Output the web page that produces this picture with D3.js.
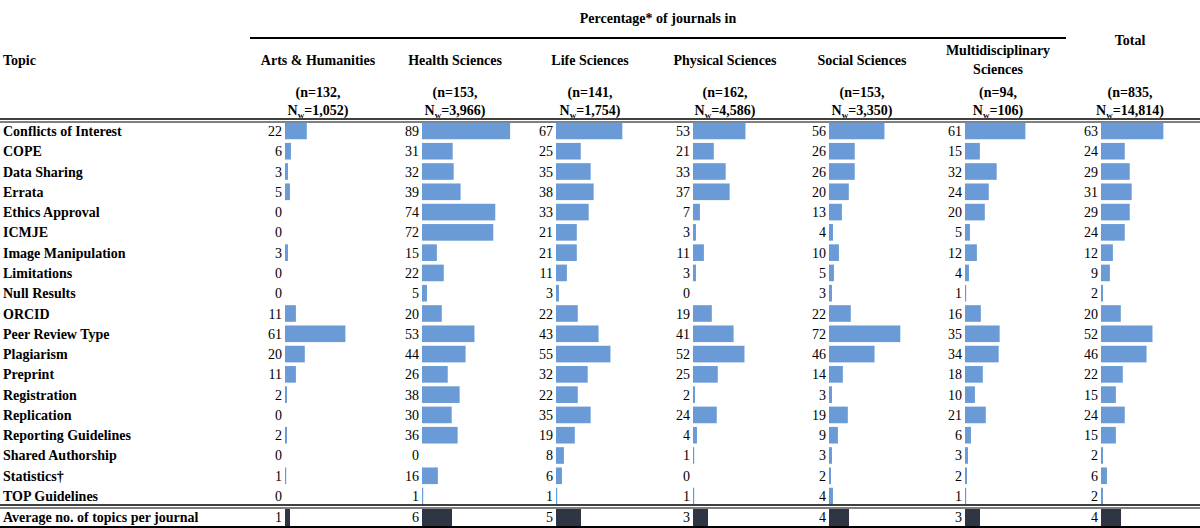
<!DOCTYPE html>
<html><head><meta charset="utf-8">
<script src="https://cdn.jsdelivr.net/npm/d3@7"></script>
<style>body{margin:0;background:#fff}text{font-family:"Liberation Serif","Times New Roman",serif;font-size:14px;fill:#000}</style>
</head><body><svg id="c" width="1200" height="528"></svg>
<script>
var topics = ["Conflicts of Interest","COPE","Data Sharing","Errata","Ethics Approval","ICMJE","Image Manipulation","Limitations","Null Results","ORCID","Peer Review Type","Plagiarism","Preprint","Registration","Replication","Reporting Guidelines","Shared Authorship","Statistics\u2020","TOP Guidelines"];
var columns = ["Arts & Humanities","Health Sciences","Life Sciences","Physical Sciences","Social Sciences","Multidisciplinary Sciences","Total"];
var nLabels = ["132","153","141","162","153","94","835"];
var nwLabels = ["1,052","3,966","1,754","4,586","3,350","106","14,814"];
var arts     = [22,6,3,5,0,0,3,0,0,11,61,20,11,2,0,2,0,1,0];
var health   = [89,31,32,39,74,72,15,22,5,20,53,44,26,38,30,36,0,16,1];
var life     = [67,25,35,38,33,21,21,11,3,22,43,55,32,22,35,19,8,6,1];
var physical = [53,21,33,37,7,3,11,3,0,19,41,52,25,2,24,4,1,0,1];
var social   = [56,26,26,20,13,4,10,5,3,22,72,46,14,3,19,9,3,2,4];
var multi    = [61,15,32,24,20,5,12,4,1,16,35,34,18,10,21,6,3,2,1];
var total    = [63,24,29,31,29,24,12,9,2,20,52,46,22,15,24,15,2,6,2];
var averages = [1,6,5,3,4,3,4];
var series = [arts,health,life,physical,social,multi,total];

var svg = d3.select("#c");
var barStart = [285,422,556,693,829,965,1101];
var x = d3.scaleLinear().domain([0,100]).range([0,99]);
var xAvg = d3.scaleLinear().domain([0,10]).range([0,50]);
var y = d3.scaleBand().domain(d3.range(topics.length)).range([121,506]).paddingInner(0.18).paddingOuter(0.08);

// header
svg.append("text").attr("x",658).attr("y",23).attr("text-anchor","middle").attr("font-weight","bold").text("Percentage* of journals in");
svg.append("line").attr("x1",250).attr("x2",1066).attr("y1",38).attr("y2",38).attr("stroke","#000").attr("stroke-width",2);
svg.append("text").attr("x",3).attr("y",65).attr("font-weight","bold").text("Topic");
var centers = [318,455,590,725,862,998,1130];
columns.forEach(function(c,i){
  var g = svg.append("g").attr("font-weight","bold");
  if (i == 5) {
    g.append("text").attr("x",centers[i]).attr("y",55).attr("text-anchor","middle").text("Multidisciplinary");
    g.append("text").attr("x",centers[i]).attr("y",74).attr("text-anchor","middle").text("Sciences");
  } else if (i == 6) {
    g.append("text").attr("x",centers[i]).attr("y",45).attr("text-anchor","middle").text("Total");
  } else {
    g.append("text").attr("x",centers[i]).attr("y",65).attr("text-anchor","middle").text(c);
  }
  g.append("text").attr("x",centers[i]).attr("y",97).attr("text-anchor","middle").text("(n=" + nLabels[i] + ",");
  var t = g.append("text").attr("x",centers[i]).attr("y",115).attr("text-anchor","middle");
  t.append("tspan").text("N");
  t.append("tspan").attr("font-size","9px").attr("dy",3).text("w");
  t.append("tspan").attr("dy",-3).text("=" + nwLabels[i] + ")");
});
svg.append("line").attr("x1",0).attr("x2",1200).attr("y1",119).attr("y2",119).attr("stroke","#000").attr("stroke-width",1.5);
svg.append("line").attr("x1",0).attr("x2",1200).attr("y1",122).attr("y2",122).attr("stroke","#000").attr("stroke-width",1);

// rows
topics.forEach(function(tp,r){
  var yc = y(r) + y.bandwidth()/2;
  svg.append("text").attr("x",3).attr("y",yc+5).attr("font-weight","bold").text(tp);
  series.forEach(function(s,i){
    svg.append("text").attr("x",barStart[i]-3).attr("y",yc+5).attr("text-anchor","end").text(s[r]);
    if (s[r] > 0)
      svg.append("rect").attr("x",barStart[i]).attr("y",y(r)).attr("width",Math.max(x(s[r]),1.2))
        .attr("height",y.bandwidth()).attr("fill","#6a9bd6");
  });
});

svg.append("line").attr("x1",0).attr("x2",1200).attr("y1",505).attr("y2",505).attr("stroke","#000").attr("stroke-width",1.5);
svg.append("line").attr("x1",0).attr("x2",1200).attr("y1",508).attr("y2",508).attr("stroke","#000").attr("stroke-width",1);
svg.append("text").attr("x",3).attr("y",522).attr("font-weight","bold").text("Average no. of topics per journal");
averages.forEach(function(a,i){
  svg.append("text").attr("x",barStart[i]-3).attr("y",522).attr("text-anchor","end").text(a);
  svg.append("rect").attr("x",barStart[i]).attr("y",509).attr("width",xAvg(a)).attr("height",17).attr("fill","#2f3542");
});
svg.append("line").attr("x1",0).attr("x2",1200).attr("y1",527).attr("y2",527).attr("stroke","#000").attr("stroke-width",2);
</script></body></html>
